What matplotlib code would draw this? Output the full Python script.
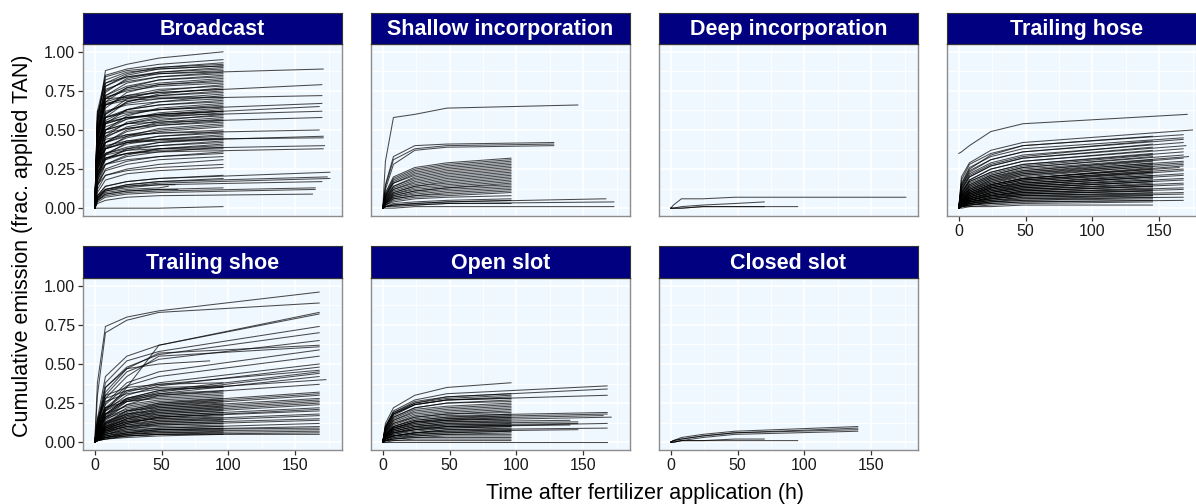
import matplotlib
matplotlib.use("Agg")
import matplotlib.pyplot as plt
from matplotlib.ticker import MultipleLocator

plt.rcParams["font.family"] = ["Liberation Sans", "DejaVu Sans"]

# Cumulative NH3 emission curves, in % of applied TAN, sampled at
# 0, 2, 8, 24 and 48 h after application and at the end of each trial.
knot_hours = [0, 2, 8, 24, 48]

broadcast_end = [96] * 69 + [171, 170, 170, 170, 168, 170, 170, 168, 171, 171, 172, 171,
                              176, 174, 176, 170, 165, 165, 163, 55, 60, 62]
broadcast_pct = [
    [0, 55, 88, 92, 96, 100], [0, 55, 85, 89, 92, 95], [0, 50, 80, 86, 90, 93],
    [0, 62, 84, 88, 90, 92], [0, 45, 78, 85, 89, 91], [0, 58, 82, 87, 89, 91],
    [0, 40, 74, 83, 87, 90], [0, 52, 78, 84, 87, 89], [0, 48, 75, 82, 86, 88],
    [0, 44, 72, 80, 84, 87], [0, 56, 76, 81, 84, 86], [0, 38, 68, 77, 82, 85],
    [0, 50, 72, 78, 82, 84], [0, 42, 70, 77, 80, 83], [0, 35, 64, 74, 79, 82],
    [0, 47, 70, 76, 79, 81], [0, 55, 71, 75, 78, 80], [0, 33, 60, 70, 75, 79],
    [0, 44, 66, 72, 76, 78], [0, 30, 58, 68, 73, 77], [0, 49, 66, 71, 74, 76],
    [0, 36, 60, 68, 72, 75], [0, 52, 67, 70, 72, 74], [0, 40, 61, 67, 70, 73],
    [0, 28, 54, 63, 68, 72], [0, 62, 70, 71, 71, 71], [0, 45, 62, 66, 68, 70],
    [0, 33, 56, 63, 66, 69], [0, 41, 58, 63, 66, 68], [0, 26, 50, 59, 64, 67],
    [0, 38, 55, 60, 63, 66], [0, 47, 58, 61, 63, 65], [0, 30, 50, 57, 61, 64],
    [0, 36, 52, 57, 60, 63], [0, 24, 46, 55, 59, 62], [0, 42, 54, 58, 60, 62],
    [0, 33, 48, 54, 58, 61], [0, 28, 45, 52, 56, 60], [0, 38, 50, 54, 57, 59],
    [0, 22, 42, 50, 55, 58], [0, 34, 46, 51, 54, 57], [0, 27, 42, 49, 53, 56],
    [0, 40, 48, 51, 53, 55], [0, 20, 38, 46, 51, 54], [0, 30, 42, 47, 50, 53],
    [0, 25, 39, 45, 49, 52], [0, 33, 42, 46, 48, 50], [0, 18, 34, 42, 46, 49],
    [0, 28, 38, 43, 46, 48], [0, 22, 35, 41, 44, 47], [0, 31, 38, 42, 44, 46],
    [0, 17, 31, 38, 42, 45], [0, 26, 35, 39, 42, 44], [0, 20, 32, 37, 40, 43],
    [0, 29, 35, 38, 40, 42], [0, 15, 28, 34, 38, 41], [0, 23, 31, 35, 38, 40],
    [0, 18, 28, 33, 36, 39], [0, 26, 32, 35, 37, 38], [0, 14, 25, 30, 33, 36],
    [0, 21, 28, 31, 33, 35], [0, 16, 24, 28, 31, 33], [0, 12, 21, 25, 28, 31],
    [0, 15, 21, 24, 26, 28], [0, 10, 18, 22, 24, 26], [0, 8, 14, 17, 19, 21],
    [0, 6, 12, 15, 17, 19], [0, 5, 9, 11, 12, 13], [0, 0, 0, 0, 0, 1],
    [0, 60, 80, 84, 86, 89], [0, 45, 68, 72, 74, 79], [0, 50, 66, 69, 70, 72],
    [0, 40, 58, 62, 63, 67], [0, 35, 54, 58, 60, 65], [0, 38, 55, 58, 59, 62],
    [0, 30, 50, 54, 55, 58], [0, 30, 44, 47, 48, 50], [0, 25, 38, 42, 43, 46],
    [0, 28, 40, 43, 44, 45], [0, 22, 34, 37, 38, 40], [0, 20, 32, 35, 36, 38],
    [0, 8, 14, 17, 19, 23], [0, 7, 12, 15, 17, 20], [0, 6, 11, 14, 16, 19],
    [0, 7, 11, 13, 15, 17], [0, 5, 8, 10, 11, 13], [0, 4, 7, 9, 10, 12],
    [0, 3, 5, 7, 8, 9], [0, 6, 10, 12, 13, 14], [0, 8, 12, 14, 15, 15],
    [0, 5, 9, 11, 12, 12],
]

shallow_end = [146, 128, 128, 128] + [96] * 27 + [167, 173, 173]
shallow_pct = [
    [0, 30, 58, 60, 64, 66], [0, 15, 33, 40, 41, 42], [0, 14, 31, 38, 40, 41],
    [0, 12, 28, 37, 39, 40], [0, 10, 20, 26, 29, 32], [0, 9, 19, 25, 28, 31],
    [0, 8, 18, 24, 27, 30], [0, 8, 17, 23, 26, 29], [0, 7, 16, 22, 25, 28],
    [0, 8, 16, 21, 24, 27], [0, 6, 14, 20, 23, 26], [0, 7, 14, 19, 22, 25],
    [0, 6, 13, 18, 21, 24], [0, 5, 12, 17, 20, 23], [0, 6, 12, 16, 19, 22],
    [0, 5, 11, 15, 18, 21], [0, 4, 10, 14, 17, 20], [0, 5, 10, 14, 16, 19],
    [0, 4, 9, 13, 15, 18], [0, 4, 9, 12, 14, 17], [0, 3, 8, 11, 13, 16],
    [0, 4, 8, 11, 13, 15], [0, 3, 7, 10, 12, 14], [0, 3, 7, 9, 11, 13],
    [0, 2, 6, 8, 10, 12], [0, 3, 6, 8, 9, 11], [0, 2, 5, 7, 8, 10],
    [0, 2, 4, 6, 7, 8], [0, 1, 3, 4, 5, 6], [0, 1, 2, 3, 4, 5],
    [0, 1, 2, 2, 3, 3], [0, 1, 2, 3, 4, 6], [0, 1, 1, 2, 3, 4],
    [0, 0, 0, 1, 1, 1],
]

deep_end = [176, 70, 95, 70]
deep_pct = [
    [0, 2, 6, 6, 7, 7], [0, 0, 1, 2, 3, 4], [0, 0, 0, 1, 1, 1], [0, 0, 0, 1, 1, 1],
]

hose_end = [171, 175, 168, 145, 168, 168, 145, 168, 145, 170, 145, 168, 145, 168, 145,
            168, 145, 172, 145, 168, 145, 168, 145, 168, 145, 168, 145, 168, 145, 165,
            145, 168, 145, 145, 168, 145, 145, 168, 145, 145, 168, 145, 145, 168, 145,
            145, 168, 145, 145, 168, 145, 145, 168, 145, 145, 168, 145, 145, 168, 145,
            145, 168, 145, 145, 168, 145, 145, 168, 145, 145, 168, 145, 145, 145]
hose_pct = [
    [35, 36, 40, 49, 54, 60], [0, 20, 29, 37, 42, 50], [0, 18, 28, 35, 40, 47],
    [0, 15, 25, 34, 40, 46], [0, 16, 26, 33, 38, 45], [0, 14, 24, 31, 36, 44],
    [0, 14, 23, 31, 36, 43], [0, 13, 22, 29, 34, 42], [0, 12, 21, 28, 33, 41],
    [0, 12, 20, 27, 32, 40], [0, 11, 20, 27, 32, 39], [0, 10, 18, 25, 30, 38],
    [0, 10, 18, 25, 30, 37], [0, 9, 17, 23, 28, 36], [0, 10, 17, 23, 28, 35],
    [0, 8, 15, 21, 26, 34], [0, 9, 16, 22, 27, 34], [0, 8, 14, 20, 25, 33],
    [0, 8, 15, 21, 26, 33], [0, 7, 13, 19, 24, 32], [0, 8, 14, 20, 24, 31],
    [0, 7, 12, 18, 23, 30], [0, 7, 13, 19, 23, 30], [0, 6, 12, 17, 22, 29],
    [0, 7, 12, 18, 22, 29], [0, 6, 11, 16, 21, 28], [0, 6, 11, 17, 21, 28],
    [0, 5, 10, 15, 19, 27], [0, 6, 11, 16, 20, 27], [0, 5, 10, 15, 19, 26],
    [0, 5, 10, 15, 19, 26], [0, 5, 9, 14, 18, 25], [0, 5, 10, 15, 19, 25],
    [0, 5, 9, 14, 18, 24], [0, 4, 9, 13, 17, 24], [0, 5, 9, 14, 18, 23],
    [0, 4, 8, 13, 17, 23], [0, 4, 8, 13, 16, 22], [0, 4, 8, 13, 16, 22],
    [0, 4, 8, 12, 16, 21], [0, 4, 7, 12, 15, 21], [0, 4, 7, 12, 15, 20],
    [0, 3, 7, 11, 15, 20], [0, 3, 7, 11, 14, 19], [0, 3, 7, 11, 14, 19],
    [0, 3, 6, 10, 14, 18], [0, 3, 6, 10, 13, 18], [0, 3, 6, 10, 13, 17],
    [0, 3, 6, 10, 13, 17], [0, 3, 6, 9, 12, 16], [0, 3, 6, 9, 12, 16],
    [0, 3, 5, 9, 12, 15], [0, 2, 5, 8, 11, 15], [0, 3, 5, 8, 11, 14],
    [0, 2, 5, 8, 11, 14], [0, 2, 5, 8, 10, 13], [0, 2, 5, 8, 10, 13],
    [0, 2, 4, 7, 10, 12], [0, 2, 4, 7, 9, 12], [0, 2, 4, 7, 9, 11],
    [0, 2, 4, 6, 9, 11], [0, 2, 4, 6, 8, 10], [0, 2, 4, 6, 8, 10],
    [0, 2, 3, 6, 8, 9], [0, 2, 3, 5, 7, 9], [0, 1, 3, 5, 7, 8],
    [0, 1, 3, 5, 6, 8], [0, 1, 3, 4, 6, 7], [0, 1, 2, 4, 5, 7],
    [0, 1, 2, 4, 5, 6], [0, 1, 2, 3, 4, 5], [0, 1, 2, 3, 4, 5],
    [0, 1, 1, 2, 3, 4], [0, 0, 1, 1, 2, 2],
]

shoe_end = [168] * 17 + [173, 168, 86] + [168] * 22 + [96] * 32
shoe_pct = [
    [0, 38, 74, 80, 84, 96], [0, 30, 70, 78, 83, 89], [0, 15, 42, 55, 62, 83],
    [0, 8, 20, 35, 62, 82], [0, 12, 38, 52, 58, 74], [0, 10, 35, 48, 56, 70],
    [0, 10, 30, 45, 53, 65], [0, 9, 32, 47, 57, 62], [0, 8, 28, 42, 55, 61],
    [0, 7, 25, 38, 45, 59], [0, 7, 24, 36, 42, 55], [0, 6, 22, 33, 38, 50],
    [0, 6, 20, 30, 36, 48], [0, 6, 21, 32, 37, 46], [0, 5, 18, 28, 33, 45],
    [0, 5, 17, 27, 32, 44], [0, 5, 16, 26, 31, 42], [0, 5, 18, 28, 33, 40],
    [0, 4, 15, 24, 30, 37], [0, 10, 35, 47, 50, 52],
    [0, 4, 12, 20, 25, 32], [0, 4, 12, 19, 24, 31], [0, 3, 11, 18, 23, 30],
    [0, 3, 10, 17, 22, 28], [0, 3, 10, 16, 21, 27], [0, 3, 9, 15, 20, 26],
    [0, 3, 9, 15, 19, 25], [0, 2, 8, 14, 18, 24], [0, 2, 8, 13, 17, 22],
    [0, 2, 7, 12, 16, 21], [0, 2, 7, 12, 16, 20], [0, 2, 6, 11, 14, 18],
    [0, 2, 6, 10, 13, 17], [0, 2, 5, 9, 12, 15], [0, 1, 5, 8, 11, 14],
    [0, 1, 4, 7, 9, 12], [0, 1, 4, 6, 8, 10], [0, 1, 3, 6, 8, 9],
    [0, 1, 3, 5, 7, 8], [0, 1, 3, 5, 6, 7], [0, 1, 2, 4, 5, 6],
    [0, 1, 2, 4, 5, 5],
    [0, 10, 22, 28, 31, 33], [0, 8, 20, 27, 30, 32], [0, 6, 18, 26, 29, 31],
    [0, 12, 22, 26, 28, 30], [0, 5, 16, 24, 27, 29], [0, 9, 18, 23, 26, 28],
    [0, 4, 14, 22, 25, 27], [0, 8, 16, 21, 24, 26], [0, 4, 13, 20, 23, 25],
    [0, 7, 15, 20, 22, 24], [0, 3, 12, 18, 21, 23], [0, 6, 13, 18, 20, 22],
    [0, 3, 11, 17, 19, 21], [0, 5, 12, 16, 18, 20], [0, 3, 10, 15, 17, 19],
    [0, 4, 10, 14, 16, 18], [0, 2, 9, 13, 15, 17], [0, 4, 9, 13, 15, 16],
    [0, 2, 8, 12, 14, 15], [0, 3, 8, 11, 13, 14], [0, 2, 7, 10, 12, 13],
    [0, 3, 7, 10, 11, 12], [0, 2, 6, 9, 10, 11], [0, 2, 5, 8, 9, 10],
    [0, 1, 5, 7, 8, 9], [0, 2, 4, 6, 7, 8], [0, 1, 3, 5, 6, 7],
    [0, 1, 3, 4, 5, 6], [0, 1, 2, 3, 4, 5], [0, 15, 30, 35, 37, 38],
    [0, 12, 28, 33, 35, 36], [0, 14, 26, 31, 34, 35],
]

open_end = [96, 168, 168, 168, 96, 96, 96, 96, 96, 96, 96, 96, 96, 96, 96, 96, 96,
            168, 168, 96, 165, 96, 171, 96, 96, 96, 140, 146, 96, 146, 96, 168, 140,
            96, 96, 96, 146, 168, 96, 96, 96, 96, 96, 96, 96, 96, 96, 168, 96]
open_pct = [
    [0, 12, 22, 30, 35, 38], [0, 10, 20, 27, 31, 36], [0, 10, 19, 25, 29, 34],
    [0, 9, 18, 24, 27, 30], [0, 10, 19, 26, 29, 31], [0, 9, 18, 25, 28, 30],
    [0, 8, 17, 24, 27, 29], [0, 9, 18, 24, 27, 28], [0, 7, 16, 22, 25, 27],
    [0, 8, 16, 22, 25, 26], [0, 7, 15, 21, 23, 25], [0, 6, 14, 20, 22, 24],
    [0, 7, 14, 19, 21, 23], [0, 6, 13, 18, 20, 22], [0, 5, 12, 17, 19, 21],
    [0, 6, 12, 16, 18, 20], [0, 5, 11, 16, 18, 19], [0, 5, 10, 15, 17, 19],
    [0, 4, 10, 14, 16, 18], [0, 5, 10, 14, 16, 18], [0, 4, 9, 13, 15, 17],
    [0, 4, 9, 13, 15, 17], [0, 4, 9, 12, 14, 16], [0, 4, 9, 13, 14, 16],
    [0, 4, 8, 12, 14, 15], [0, 3, 8, 11, 13, 14], [0, 4, 8, 11, 13, 14],
    [0, 3, 7, 10, 12, 13], [0, 3, 7, 10, 12, 13], [0, 3, 7, 10, 11, 12],
    [0, 3, 6, 9, 11, 12], [0, 3, 6, 9, 10, 12], [0, 3, 6, 8, 10, 11],
    [0, 2, 6, 8, 10, 11], [0, 2, 5, 8, 9, 10], [0, 2, 5, 7, 9, 10],
    [0, 2, 4, 6, 7, 8], [0, 2, 4, 6, 8, 9], [0, 2, 4, 6, 8, 9],
    [0, 2, 4, 6, 7, 8], [0, 2, 4, 5, 6, 7], [0, 1, 3, 5, 6, 7],
    [0, 1, 3, 4, 5, 6], [0, 1, 2, 4, 5, 5], [0, 1, 2, 3, 4, 4],
    [0, 1, 2, 3, 3, 3], [0, 1, 1, 2, 2, 2], [0, 0, 0, 0, 0, 0],
    [0, 0, 1, 1, 1, 1],
]

closed_end = [140, 140, 140, 140, 95, 70]
closed_pct = [
    [0, 1, 3, 5, 7, 10], [0, 1, 2, 4, 6, 9], [0, 1, 2, 4, 6, 8],
    [0, 0, 1, 3, 5, 7], [0, 0, 1, 1, 1, 1], [0, 0, 1, 1, 2, 2],
]

panel_titles = ["Broadcast", "Shallow incorporation", "Deep incorporation",
                "Trailing hose", "Trailing shoe", "Open slot", "Closed slot"]
panel_data = [(broadcast_end, broadcast_pct), (shallow_end, shallow_pct),
              (deep_end, deep_pct), (hose_end, hose_pct), (shoe_end, shoe_pct),
              (open_end, open_pct), (closed_end, closed_pct)]

x_ticks = [0, 50, 100, 150]
y_ticks = [0.0, 0.25, 0.5, 0.75, 1.0]
y_tick_labels = ["0.00", "0.25", "0.50", "0.75", "1.00"]
x_title = "Time after fertilizer application (h)"
y_title = "Cumulative emission (frac. applied TAN)"

# ---------------------------------------------------------------- layout (px)
W, H = 1196, 504
fig = plt.figure(figsize=(W / 100, H / 100), dpi=100)

col_left = [83, 371, 659, 947]
panel_w = 259
rows = [(13, 44, 216), (246, 278, 450)]  # strip top, panel top, panel bottom
strip_color = "#000080"
panel_bg = "#F0F8FF"
border_color = "#8c8c8c"
tick_color = "#333333"


def fig_rect(x0, top, x1, bottom):
    return [x0 / W, 1 - bottom / H, (x1 - x0) / W, (bottom - top) / H]


for k, (title, (ends, pcts)) in enumerate(zip(panel_titles, panel_data)):
    r, c = divmod(k, 4)
    s_top, p_top, p_bot = rows[r]
    x0 = col_left[c]
    ax = fig.add_axes(fig_rect(x0, p_top, x0 + panel_w, p_bot))
    ax.set_facecolor(panel_bg)
    ax.set_xlim(-8.8, 185.1)
    ax.set_ylim(-0.05, 1.05)

    for end, vals in zip(ends, pcts):
        ax.plot(knot_hours + [end], [v / 100 for v in vals], color="black",
                lw=0.75, alpha=0.7, solid_joinstyle="round", zorder=3)

    ax.xaxis.set_major_locator(MultipleLocator(50))
    ax.xaxis.set_minor_locator(MultipleLocator(25))
    ax.yaxis.set_major_locator(MultipleLocator(0.25))
    ax.yaxis.set_minor_locator(MultipleLocator(0.125))
    ax.grid(which="major", color="white", lw=1.1, zorder=0)
    ax.grid(which="minor", color="white", lw=0.55, zorder=0)
    ax.set_axisbelow(True)
    for sp in ax.spines.values():
        sp.set_color(border_color)
        sp.set_linewidth(1.0)
        sp.set_zorder(5)

    ax.set_xticks(x_ticks)
    ax.set_yticks(y_ticks)
    ax.set_yticklabels(y_tick_labels)
    ax.tick_params(which="minor", length=0)
    ax.tick_params(which="major", length=3.5, width=0.9, color=tick_color,
                   labelsize=11.5, labelcolor="#1a1a1a", pad=2)
    show_x = (r == 1) or (c == 3)
    show_y = (c == 0)
    ax.tick_params(axis="x", bottom=show_x, labelbottom=show_x)
    ax.tick_params(axis="y", left=show_y, labelleft=show_y)

    sax = fig.add_axes(fig_rect(x0, s_top, x0 + panel_w, p_top))
    sax.set_facecolor(strip_color)
    sax.set_xticks([])
    sax.set_yticks([])
    for sp in sax.spines.values():
        sp.set_color("#333333")
        sp.set_linewidth(0.8)
    sax.text(0.5, 0.46, title, transform=sax.transAxes, ha="center", va="center",
             color="white", fontsize=15.5, fontweight="bold")

fig.text(645 / W, 1 - 493 / H, x_title, ha="center", va="center", fontsize=15.5,
         color="black")
fig.text(23 / W, 1 - 246 / H, y_title, ha="center", va="center", rotation=90,
         fontsize=15.5, color="black")

fig.savefig("out.png", dpi=100, facecolor="white")
